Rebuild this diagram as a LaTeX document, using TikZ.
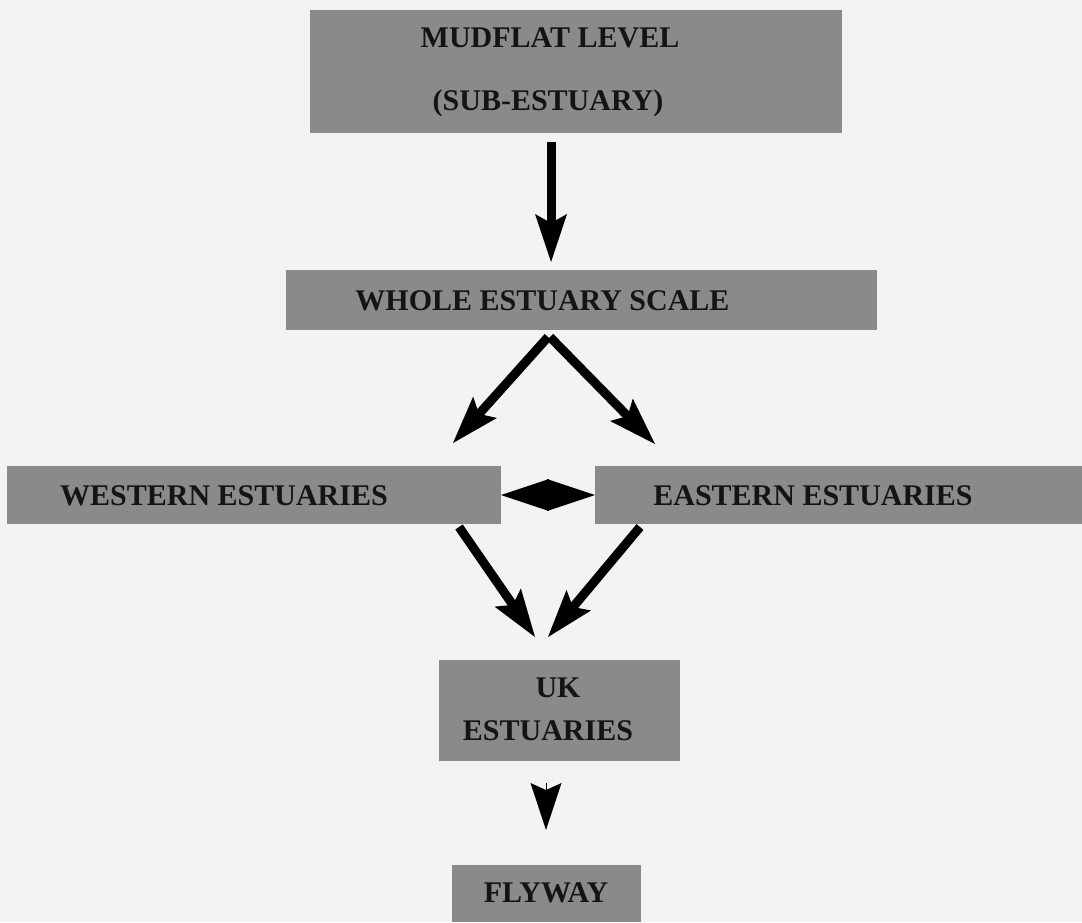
\documentclass[tikz,border=0pt]{standalone}
\usepackage{fontspec}
\setmainfont{Liberation Serif}
\usetikzlibrary{arrows.meta,calc}
\definecolor{boxgray}{HTML}{8A8A8A}
\definecolor{pagebg}{HTML}{F3F3F3}
\begin{document}
\begin{tikzpicture}[x=1pt,y=-1pt,
  box/.style={draw=none,fill=boxgray,inner sep=0pt,outer sep=0pt},
  lbl/.style={anchor=base,inner sep=0pt,font=\fontsize{30}{36}\selectfont\bfseries,text=black!92},
  arr/.style={line width=9pt,-{Stealth[length=48pt,width=32pt,inset=9pt,line width=0pt]}},
  dbl/.style={line width=6pt,{Triangle[length=48pt,width=32pt,line width=0pt]}-{Triangle[length=48pt,width=32pt,line width=0pt]}},
  head/.style={line width=0.2pt,-{Stealth[length=47pt,width=31pt,inset=7pt,line width=0pt]}}
]
\fill[pagebg] (0,0) rectangle (1082,922);
\useasboundingbox (0,0) rectangle (1082,922);

% boxes
\node[box,minimum width=532pt,minimum height=123pt] (b1) at (576,71.5) {};
\node[box,minimum width=591pt,minimum height=60pt] (b2) at (581.5,300) {};
\node[box,minimum width=494pt,minimum height=58pt] (bW) at (254,495) {};
\node[box,minimum width=487pt,minimum height=58pt] (bE) at (838.5,495) {};
\node[box,minimum width=241pt,minimum height=101pt] (bUK) at (559.5,710.5) {};
\node[box,minimum width=189pt,minimum height=57pt] (bF) at (546.5,893.5) {};

% labels
\node[lbl] (t1a) at (550,47) {MUDFLAT LEVEL};
\node[lbl] (t1b) at (548,110) {(SUB-ESTUARY)};
\node[lbl] (t2) at (542.5,310) {WHOLE ESTUARY SCALE};
\node[lbl] (tW) at (224,505) {WESTERN ESTUARIES};
\node[lbl] (tE) at (813,505) {EASTERN ESTUARIES};
\node[lbl] (tUKa) at (558,697) {UK};
\node[lbl] (tUKb) at (548,740) {ESTUARIES};
\node[lbl] (tF) at (546,902) {FLYWAY};

% connectors
\draw[arr] ($(b1.south)+(-25,9)$) -- ($(b2.north)+(-30.5,-8)$);
\draw[arr] ($(b2.south)+(-33.5,7)$) -- ($(bW.north)+(199,-23)$);
\draw[arr] ($(b2.south)+(-31.5,7)$) -- ($(bE.north)+(-183.5,-22)$);
\draw[arr] ($(bW.south)+(205,3)$) -- ($(bUK.north)+(-24.5,-23)$);
\draw[arr] ($(bE.south)+(-198.5,3)$) -- ($(bUK.north)+(-11.5,-23)$);
\draw[dbl] (bW.east) -- (bE.west);
\draw[head] ($(bUK.south)+(-13.5,22)$) -- ($(bF.north)+(-0.5,-35)$);
\end{tikzpicture}
\end{document}
